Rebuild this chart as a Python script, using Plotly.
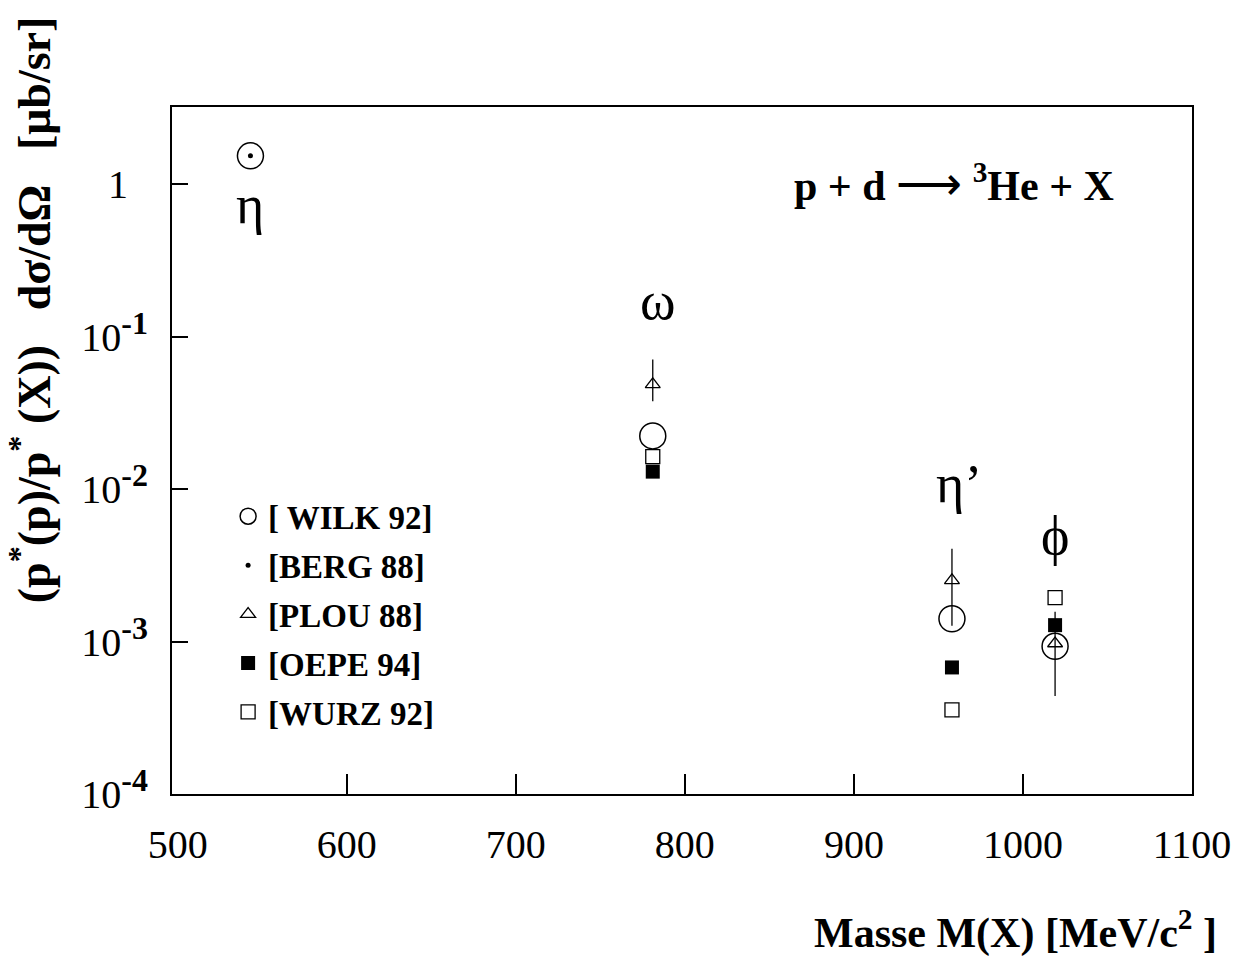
import plotly.graph_objects as go

# Meson masses [MeV/c^2]
m_eta, m_omega, m_etap, m_phi = 543, 781, 958, 1019

# (p*(p)/p*(X)) dsigma/dOmega [ub/sr] for each data set
wilk_x = [m_eta, m_omega, m_etap, m_phi]
wilk_y = [1.53, 0.0223, 0.00141, 0.00093]

berg_x = [m_eta]
berg_y = [1.53]

plou_x = [m_omega, m_etap, m_phi]
plou_y = [0.0486, 0.00252, 0.00097]
plou_err_plus = [0.0222, 0.00153, 0.00060]
plou_err_minus = [0.0110, 0.00125, 0.00053]

oepe_x = [m_omega, m_etap, m_phi]
oepe_y = [0.0130, 0.000676, 0.00128]

wurz_x = [m_omega, m_etap, m_phi]
wurz_y = [0.0163, 0.000356, 0.00194]

x_labels = [500, 600, 700, 800, 900, 1000, 1100]
x_tickmarks = [600, 700, 800, 900, 1000]
y_ticks = [1e-4, 1e-3, 1e-2, 1e-1, 1]
y_exponents = ["-4", "-3", "-2", "-1"]
y_ticktext = ["10<sup><b><span style=\"font-size:32px\">%s</span></b></sup>" % e
              for e in y_exponents] + ["1\u2007"]

SERIF = "Liberation Serif, Times New Roman, serif"
BLACK = "black"

fig = go.Figure()

fig.add_trace(go.Scatter(
    x=wilk_x, y=wilk_y, mode="markers", name="<b>[ WILK 92]</b>", legendgroup="a",
    marker=dict(symbol="circle-open", size=26, color=BLACK, line=dict(width=1.5, color=BLACK)),
))
fig.add_trace(go.Scatter(
    x=berg_x, y=berg_y, mode="markers", name="<b>[BERG 88]</b>", legendgroup="b",
    marker=dict(symbol="circle", size=5, color=BLACK),
))
fig.add_trace(go.Scatter(
    x=plou_x, y=plou_y, mode="markers", name="<b>[PLOU 88]</b>", legendgroup="c",
    marker=dict(symbol="triangle-up-open", size=13, color=BLACK, line=dict(width=1.3, color=BLACK)),
    error_y=dict(type="data", symmetric=False, array=plou_err_plus, arrayminus=plou_err_minus,
                 color=BLACK, thickness=1.3, width=0),
))
fig.add_trace(go.Scatter(
    x=oepe_x, y=oepe_y, mode="markers", name="<b>[OEPE 94]</b>", legendgroup="d",
    marker=dict(symbol="square", size=14, color=BLACK),
))
fig.add_trace(go.Scatter(
    x=wurz_x, y=wurz_y, mode="markers", name="<b>[WURZ 92]</b>", legendgroup="e",
    marker=dict(symbol="square-open", size=14, color=BLACK, line=dict(width=1.3, color=BLACK)),
))

# Particle labels next to the measured points
particle_labels = [
    ("\u03b7", m_eta, -0.14),
    ("\u03c9", m_omega + 3, -0.77),
    ("\u03b7\u2019", m_etap + 4, -1.97),
    ("\u03d5", m_phi, -2.31),
]
for txt, xv, yv in particle_labels:
    fig.add_annotation(x=xv, y=yv, xref="x", yref="y", text=txt, showarrow=False,
                       font=dict(family=SERIF, size=54, color=BLACK),
                       xanchor="center", yanchor="middle")

# Reaction
fig.add_annotation(x=0.925, y=0.89, xref="paper", yref="paper",
                   text="<b>p + d</b> <span style=\"font-size:46px\">\u27f6</span> <b><sup>3</sup>He + X</b>",
                   showarrow=False, font=dict(family=SERIF, size=42, color=BLACK),
                   xanchor="right", yanchor="middle")

# Axis titles
fig.add_annotation(x=-0.139, y=0.7045, xref="paper", yref="paper",
                   text="<b>(p<sup>*</sup>(p)/p<sup>*</sup>\u00a0(X))\u00a0\u00a0\u00a0d\u03c3/d\u03a9\u00a0\u00a0\u00a0[\u03bcb/sr]</b>",
                   textangle=-90, showarrow=False,
                   font=dict(family=SERIF, size=46, color=BLACK),
                   xanchor="center", yanchor="middle")
fig.add_annotation(x=1.026, y=-0.198, xref="paper", yref="paper",
                   text="<b>Masse M(X) [MeV/c<sup>2</sup> ]</b>",
                   showarrow=False, font=dict(family=SERIF, size=42, color=BLACK),
                   xanchor="right", yanchor="middle")

fig.update_xaxes(
    range=[496.6, 1100], tickvals=x_labels, ticktext=[str(v) for v in x_labels],
    ticks="", showline=True, linecolor=BLACK, linewidth=2, mirror=True,
    showgrid=False, zeroline=False, ticklabelstandoff=14,
    tickfont=dict(family=SERIF, size=40, color=BLACK),
    minor=dict(tickvals=x_tickmarks, ticks="inside", ticklen=20, tickwidth=1.5,
               tickcolor=BLACK, showgrid=False),
)
fig.update_yaxes(
    type="log", range=[-4, 0.505], tickvals=y_ticks, ticktext=y_ticktext,
    ticks="inside", ticklen=16, tickwidth=1.5, tickcolor=BLACK,
    showline=True, linecolor=BLACK, linewidth=2, mirror=True,
    showgrid=False, zeroline=False, ticklabelstandoff=14,
    tickfont=dict(family=SERIF, size=40, color=BLACK),
)

fig.update_layout(
    width=1245, height=960,
    margin=dict(l=172, r=53, t=107, b=166),
    paper_bgcolor="white", plot_bgcolor="white",
    showlegend=True,
    legend=dict(x=0.055, y=0.445, xanchor="left", yanchor="top",
                font=dict(family=SERIF, size=33, color=BLACK),
                bgcolor="rgba(0,0,0,0)", borderwidth=0,
                tracegroupgap=3, itemsizing="trace", traceorder="grouped"),
)

fig.write_html("out.html")
